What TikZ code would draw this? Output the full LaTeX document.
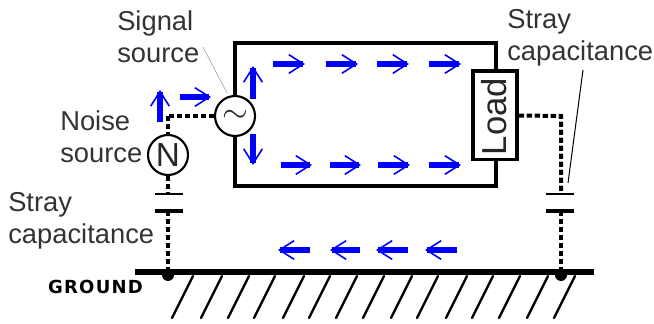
\documentclass[tikz,border=0pt]{standalone}
\usepackage{fontspec}
\setmainfont{Liberation Sans}
\newfontfamily\gfont[LetterSpace=7]{DejaVu Sans Bold}
\usetikzlibrary{arrows.meta}
\tikzset{
  wire/.style={line width=2.5pt,line join=miter},
  stray/.style={line width=3pt,dash pattern=on 4pt off 2pt},
  strayn/.style={line width=2.8pt,dash pattern=on 4pt off 2pt},
  flow/.style={draw=blue,line width=3.8pt,-{Straight Barb[length=11pt,width=14pt,line width=1.2pt,color=blue]}},
  lab/.style={font=\fontsize{20.5pt}{23.8pt}\selectfont,align=left,text=black!80,inner sep=0pt,anchor=west},
  src/.style={circle,draw,line width=1.6pt,fill=white,minimum size=30pt,inner sep=0pt,text=black!85},
  dot/.style={circle,fill=black,minimum size=9pt,inner sep=0pt},
  hatch/.style={line width=1.8pt,line cap=round},
  plate/.style={line width=1.8pt},
  platet/.style={line width=3.2pt}
}
\begin{document}
\begin{tikzpicture}[x=0.75pt,y=-0.75pt]
\useasboundingbox (0,0) rectangle (654,324);
% main loop
\node[draw,line width=2.5pt,fill=white,minimum width=33pt,minimum height=66.5pt,inner sep=0pt] (load) at (495,115.5) {};
\node[rotate=90,font=\fontsize{26pt}{28pt}\selectfont,text=black!85,inner sep=0pt] (loadtext) at (494,116.5) {Load};
\coordinate (tl) at (235,43);
\coordinate (tr) at (496,43);
\coordinate (bl) at (235,186);
\coordinate (br) at (496,186);
\node[src,font=\fontsize{28pt}{28pt}\selectfont] (sig) at (235,116) {$\sim$};
\node[src,font=\fontsize{25pt}{25pt}\selectfont] (noise) at (168,155) {N};
\draw[wire] (sig.north) -- (tl) -- (tr) -- (tr|-load.north);
\draw[wire] (sig.south) -- (bl) -- (br) -- (br|-load.south);
% ground
\coordinate (gl) at (135,272);
\coordinate (gr) at (594,272);
\draw[line width=4.5pt] (gl) -- (gr);
\node[dot] (gd1) at (168,275) {};
\node[dot] (gd2) at (561,275) {};
% left stray path
\coordinate (lc) at (168,116);
\coordinate (p1a) at (155,194); \coordinate (p1b) at (183,194);
\coordinate (p2a) at (155,211); \coordinate (p2b) at (183,211);
\draw[stray] (sig.west) -- (lc);
\draw[strayn] (lc) -- (noise.north);
\draw[strayn] (noise.south) -- (168,194);
\draw[plate] (p1a) -- (p1b);
\draw[platet] (p2a) -- (p2b);
\draw[strayn] (168,211) -- (gd1);
% right stray path
\coordinate (rc) at (561,116);
\coordinate (p3a) at (546,194); \coordinate (p3b) at (574,194);
\coordinate (p4a) at (546,211); \coordinate (p4b) at (574,211);
\draw[stray] (load.east) -- (rc) -- (561,194);
\draw[plate] (p3a) -- (p3b);
\draw[platet] (p4a) -- (p4b);
\draw[stray] (561,211) -- (gd2);
% hatching
\foreach \x in {193,222,249,275,304,330,357,384,412,438,467,493,520,548,575}
  \draw[hatch] (\x,276) -- (\x-21,318);
% flow arrows
\foreach \a/\b in {273/305,326/358,377/409,429/461}
  \draw[flow] (\a,64) -- (\b,64);
\foreach \a/\b in {281/312,330/361,378/410,429/461}
  \draw[flow] (\a,165) -- (\b,165);
\foreach \a/\b in {310/278,360/330,408/376,457/425}
  \draw[flow] (\a,250) -- (\b,250);
\draw[flow] (253,99) -- (253,66);
\draw[flow] (253,134) -- (253,165);
\draw[flow] (160,122) -- (160,90);
\draw[flow] (180,97) -- (211,97);
% labels
\node[lab] (t1) at (117,37) {Signal\\source};
\node[lab] (t2) at (60,137) {Noise\\source};
\node[lab] (t3) at (8,221) {Stray\\capacitance};
\node[lab] (t4) at (507,38) {Stray\\capacitance};
\node[font=\gfont\fontsize{13.5pt}{14pt}\selectfont,inner sep=0pt] (g) at (95.5,287) {GROUND};
% leaders
\coordinate (s1) at (203,47); \coordinate (s2) at (227,93);
\draw[gray!70,line width=0.5pt] (s1) -- (s2);
\coordinate (s3) at (583,70); \coordinate (s4) at (568,183);
\draw[line width=0.75pt] (s3) -- (s4);
\end{tikzpicture}
\end{document}
